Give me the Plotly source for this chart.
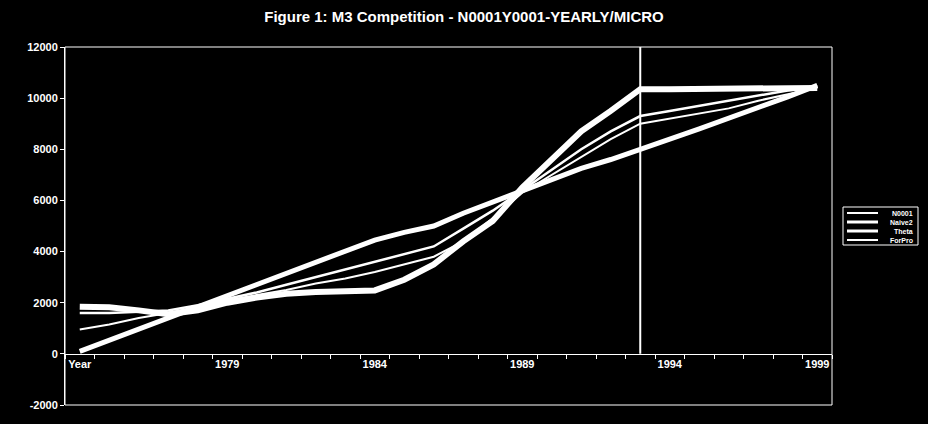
import plotly.graph_objects as go

categories = ["Year", "1975", "1976", "1977", "1978", "1979", "1980", "1981", "1982",
              "1983", "1984", "1985", "1986", "1987", "1988", "1989", "1990", "1991",
              "1992", "1993", "1994", "1995", "1996", "1997", "1998", "1999"]
label_categories = ["Year", "1979", "1984", "1989", "1994", "1999"]

series_names = ["N0001", "Naive2", "Theta", "ForPro"]
series_a = [1840, 1820, 1700, 1550, 1700, 2000, 2200, 2350, 2420, 2460, 2480, 2900, 3500,
            4400, 5200, 6500, 7600, 8700, 9500, 10350, 10350, 10350, 10350, 10350, 10350, 10400]
series_b = [100, 540, 970, 1400, 1840, 2280, 2700, 3150, 3600, 4050, 4450, 4750, 5000,
            5500, 5950, 6400, 6850, 7250, 7600, 7980, 8400, 8800, 9200, 9600, 10050, 10500]
series_c = [1600, 1600, 1650, 1700, 1900, 2150, 2400, 2700, 3000, 3300, 3600, 3900, 4200,
            4900, 5600, 6400, 7200, 8000, 8700, 9300, 9500, 9700, 9900, 10100, 10300, 10450]
series_d = [950, 1150, 1400, 1600, 1850, 2100, 2300, 2500, 2750, 2950, 3200, 3500, 3800,
            4400, 5300, 6300, 7000, 7700, 8400, 9000, 9200, 9400, 9600, 9900, 10150, 10400]

y_tick_vals = [12000, 10000, 8000, 6000, 4000, 2000, 0, -2000]
y_tick_text = ["12000", "10000", "8000", "6000", "4000", "2000", "0", "-2000"]
marker_category = "1993"

x_idx = list(range(len(categories)))
FONT = "Liberation Sans, Arial, sans-serif"

W, H = 928, 424
ML, MR, MT, MB = 65, 96, 47, 19
PW, PH = W - ML - MR, H - MT - MB


def px_x(px):
    return (px - ML) / PW


def px_y(py):
    return (H - MB - py) / PH


fig = go.Figure()
widths = [6, 5, 2.5, 2]
for name, vals, w in zip(series_names, [series_a, series_b, series_c, series_d], widths):
    fig.add_trace(go.Scatter(x=x_idx, y=vals, mode="lines", name=name,
                             line=dict(color="white", width=w), showlegend=False,
                             hoverinfo="skip"))

ymin, ymax = -2000, 12000
x_pos = (0 - ymin) / (ymax - ymin)

shapes = [
    dict(type="rect", xref="paper", yref="paper", x0=0, y0=0, x1=1, y1=1,
         line=dict(color="white", width=1)),
    dict(type="line", xref="x", yref="y",
         x0=categories.index(marker_category), x1=categories.index(marker_category),
         y0=0, y1=ymax, line=dict(color="white", width=2)),
    # legend box
    dict(type="rect", xref="paper", yref="paper",
         x0=px_x(843), x1=px_x(918), y0=px_y(245), y1=px_y(207),
         line=dict(color="white", width=1), fillcolor="black"),
]
annotations = []
leg_w = [2, 3, 3, 2]
for k, name in enumerate(series_names):
    yy = 213 + k * 9
    shapes.append(dict(type="line", xref="paper", yref="paper",
                       x0=px_x(847), x1=px_x(878), y0=px_y(yy), y1=px_y(yy),
                       line=dict(color="white", width=leg_w[k])))
    annotations.append(dict(x=px_x(915), y=px_y(yy), xref="paper", yref="paper",
                            text="<b>%s</b>" % name, showarrow=False,
                            xanchor="right", yanchor="middle",
                            font=dict(family=FONT, size=7, color="white")))

fig.update_layout(
    width=W, height=H,
    paper_bgcolor="black", plot_bgcolor="black",
    margin=dict(l=ML, r=MR, t=MT, b=MB),
    title=dict(text="<b>Figure 1: M3 Competition - N0001Y0001-YEARLY/MICRO</b>",
               x=0.5, xref="container", y=1 - 17 / H, yref="container", yanchor="middle",
               font=dict(family=FONT, size=15, color="white")),
    showlegend=False,
    xaxis=dict(
        range=[-0.5, len(categories) - 0.5],
        tickmode="array",
        tickvals=[categories.index(c) for c in label_categories],
        ticktext=["<b>%s</b>" % c for c in label_categories],
        ticks="", showgrid=False, zeroline=False,
        showline=True, linecolor="white", linewidth=1,
        anchor="free", position=x_pos,
        tickfont=dict(family=FONT, size=11, color="white"),
        minor=dict(tickmode="array", tickvals=[i - 0.5 for i in range(len(categories) + 1)],
                   ticks="outside", ticklen=4, tickcolor="white", showgrid=False),
    ),
    yaxis=dict(
        range=[ymin, ymax],
        tickmode="array", tickvals=y_tick_vals,
        ticktext=["<b>%s</b>" % t for t in y_tick_text],
        ticks="outside", ticklen=4, tickcolor="white",
        showgrid=False, zeroline=False,
        showline=True, linecolor="white", linewidth=1,
        tickfont=dict(family=FONT, size=11, color="white"),
    ),
    shapes=shapes,
    annotations=annotations,
)

fig.write_html("out.html", config={"displayModeBar": False},
               post_script="document.body.style.margin='0';document.body.style.background='black';")
